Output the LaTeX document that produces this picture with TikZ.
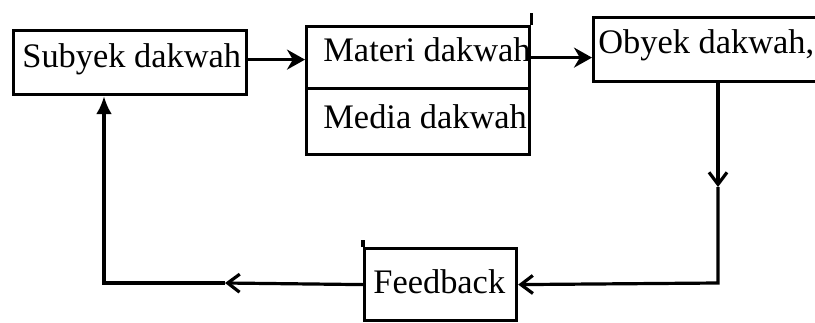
\documentclass[tikz,border=0pt]{standalone}
\usepackage{fontspec}
\setmainfont{Liberation Serif}
\usetikzlibrary{arrows.meta}

\tikzset{
  box/.style={draw, line width=1.6pt, inner sep=0pt, anchor=north west},
  word/.style={anchor=base west, inner sep=0pt, font=\fontsize{17.2}{20}\selectfont},
  flow/.style={line width=1.6pt},
  bold head/.style={-{Stealth[length=9pt,width=10pt]}},
  vee head/.style={-{Straight Barb[length=6pt,width=9pt]}}
}

\begin{document}
\begin{tikzpicture}[x=0.5pt, y=-0.5pt]  % one unit = one pixel of the page
  % Page frame (the right box runs off the page)
  \useasboundingbox (0,0) rectangle (815,322);
  \clip (0,0) rectangle (815,322);

  % Boxes
  \node[box, minimum width=116.5pt, minimum height=32pt] (subyek) at (12,29) {};
  \node[box, minimum width=111.5pt, minimum height=31pt] (materi) at (305,25) {};
  \node[box, minimum width=111.5pt, minimum height=33pt] (media) at (305,87) {};
  \node[box, minimum width=125pt, minimum height=32pt] (obyek) at (592,16) {};
  \node[box, minimum width=76pt, minimum height=36pt] (feedback) at (363,247) {};

  % Texts
  \node[word] (t-subyek) at (22,67) {Subyek dakwah};
  \node[word] (t-materi) at (323,61) {Materi dakwah};
  \node[word] (t-media) at (323,128) {Media dakwah};
  \node[word] (t-obyek) at (598,53) {Obyek dakwah,};
  \node[word] (t-feedback) at (373,293) {Feedback};

  % Bends and mid-line arrow points of the loop
  \coordinate (mark-r) at (718,187);
  \coordinate (corner-r) at (718,283);
  \coordinate (mark-l) at (225,283);
  \coordinate (corner-l) at (104,283);

  % Forward arrows
  \draw[flow, bold head] ([yshift=1.5pt]subyek.east) -- ([yshift=1.5pt]subyek.east -| materi.west);
  \draw[flow, bold head] (materi.east) -- (materi.east -| obyek.west);

  % Feedback loop
  \draw[flow, vee head] (obyek.south -| mark-r) -- (mark-r);
  \draw[flow, vee head] (mark-r) -- (corner-r) -- (feedback.east);
  \draw[flow, vee head] (feedback.west) -- (mark-l);
  \draw[flow, -{Latex[length=9pt,width=8pt]}] (mark-l) -- (corner-l) -- (subyek.south -| corner-l);

  % Pen strokes past the box corners
  \draw[flow] (materi.north east) -- ++(0,-12);
  \draw[flow] (feedback.north west) -- ++(0,-7);
\end{tikzpicture}
\end{document}
